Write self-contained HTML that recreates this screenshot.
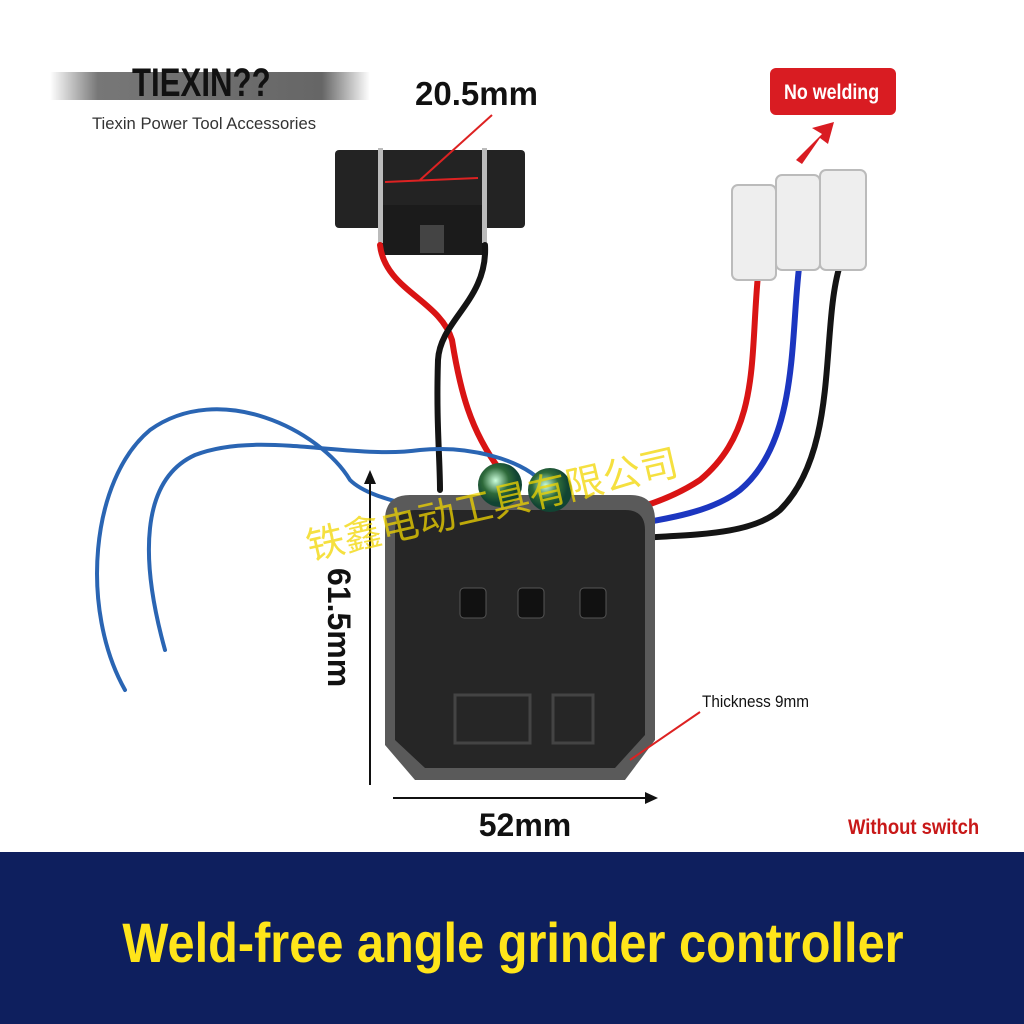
<!DOCTYPE html>
<html><head><meta charset="utf-8"><style>
html,body{margin:0;padding:0;background:#fff}
body{width:1024px;height:1024px;position:relative;overflow:hidden;font-family:"Liberation Sans",sans-serif}
</style></head><body>
<svg width="1024" height="1024" viewBox="0 0 1024 1024" style="position:absolute;left:0;top:0">
<defs>
<linearGradient id="bar" x1="0" x2="1"><stop offset="0" stop-color="#fff"/><stop offset="0.15" stop-color="#777"/><stop offset="0.85" stop-color="#666"/><stop offset="1" stop-color="#fff"/></linearGradient>
<radialGradient id="cap" cx="0.4" cy="0.4"><stop offset="0" stop-color="#cfd"/><stop offset="0.6" stop-color="#2e6a3a"/><stop offset="1" stop-color="#143"/></radialGradient>
</defs>
<rect x="50" y="72" width="320" height="28" fill="url(#bar)"/>
<text x="0" y="96" font-size="40" font-weight="bold" fill="#111" transform="translate(132,0) scale(0.78,1)">TIEXIN??</text>
<text x="0" y="129" font-size="17" fill="#333" transform="translate(92,0) scale(0.98,1)">Tiexin Power Tool Accessories</text>
<text x="415" y="105" font-size="33" font-weight="bold" fill="#111">20.5mm</text>
<rect x="770" y="68" width="126" height="47" rx="6" fill="#d91c22"/>
<text x="0" y="99" font-size="21" font-weight="bold" fill="#fff" transform="translate(784,0) scale(0.85,1)">No welding</text>
<path d="M796 160 L822 134 L812 128 L834 122 L828 144 L820 138 L802 164 Z" fill="#d91c22"/>
<rect x="335" y="150" width="190" height="78" rx="4" fill="#232323"/>
<rect x="380" y="205" width="105" height="50" rx="3" fill="#1b1b1b"/>
<rect x="420" y="225" width="24" height="28" fill="#444"/>
<rect x="378" y="148" width="5" height="95" fill="#bbb"/>
<rect x="482" y="148" width="5" height="95" fill="#bbb"/>
<line x1="385" y1="182" x2="478" y2="178" stroke="#d22" stroke-width="2"/>
<line x1="420" y1="180" x2="492" y2="115" stroke="#d22" stroke-width="2"/>
<g fill="none" stroke-linecap="round">
<path d="M380 245 C385 290,440 300,452 340 C460 390,470 430,500 470" stroke="#d91414" stroke-width="6"/>
<path d="M485 245 C488 300,440 320,438 360 C436 420,440 460,440 490" stroke="#141414" stroke-width="6"/>
<path d="M758 275 C750 360,760 430,700 480 C640 520,560 520,500 540 C470 550,470 570,470 590" stroke="#d91414" stroke-width="6"/>
<path d="M800 260 C790 330,800 440,740 490 C690 530,580 520,540 550 C525 565,525 580,530 590" stroke="#1c36c0" stroke-width="6"/>
<path d="M840 265 C820 330,840 450,780 510 C740 545,640 530,600 545 C590 555,592 580,592 590" stroke="#141414" stroke-width="6"/>
<path d="M125 690 C80 610,90 480,150 430 C220 380,320 430,350 480 C370 500,420 505,440 515" stroke="#2a65b3" stroke-width="4"/>
<path d="M165 650 C140 560,140 480,195 455 C260 430,350 460,420 450 C470 445,520 460,540 480" stroke="#2a65b3" stroke-width="4"/>
</g>
<g fill="#eee" stroke="#bbb" stroke-width="2">
<rect x="732" y="185" width="44" height="95" rx="6"/>
<rect x="776" y="175" width="44" height="95" rx="6"/>
<rect x="820" y="170" width="46" height="100" rx="6"/>
</g>
<path d="M385 520 Q385 495 410 495 L630 495 Q655 495 655 520 L655 740 L625 780 L415 780 L385 745 Z" fill="#5a5a5a"/>
<path d="M395 530 Q395 510 415 510 L625 510 Q645 510 645 530 L645 735 L615 768 L425 768 L395 740 Z" fill="#262626"/>
<circle cx="500" cy="485" r="22" fill="url(#cap)"/>
<circle cx="550" cy="490" r="22" fill="url(#cap)"/>
<g fill="#111" stroke="#555"><rect x="460" y="588" width="26" height="30" rx="4"/><rect x="518" y="588" width="26" height="30" rx="4"/><rect x="580" y="588" width="26" height="30" rx="4"/></g>
<rect x="455" y="695" width="75" height="48" fill="none" stroke="#444" stroke-width="3"/>
<rect x="553" y="695" width="40" height="48" fill="none" stroke="#444" stroke-width="3"/>
<line x1="370" y1="785" x2="370" y2="480" stroke="#111" stroke-width="2"/>
<path d="M370 470 L364 484 L376 484 Z" fill="#111"/>
<text transform="translate(328,568) rotate(90)" font-size="32" font-weight="bold" fill="#111">61.5mm</text>
<line x1="393" y1="798" x2="648" y2="798" stroke="#111" stroke-width="2"/>
<path d="M658 798 L645 792 L645 804 Z" fill="#111"/>
<text x="525" y="836" font-size="32" font-weight="bold" fill="#111" text-anchor="middle">52mm</text>
<text x="0" y="707" font-size="17" fill="#111" transform="translate(702,0) scale(0.9,1)">Thickness 9mm</text>
<line x1="700" y1="712" x2="630" y2="760" stroke="#d22" stroke-width="2"/>
<text x="0" y="834" font-size="21" font-weight="bold" fill="#c81818" transform="translate(848,0) scale(0.88,1)">Without switch</text>
<text x="310" y="560" font-size="38" fill="#f2d500" fill-opacity="0.75" font-family="Noto Sans CJK SC,sans-serif" transform="rotate(-13 310 560)">铁鑫电动工具有限公司</text>
<rect x="0" y="852" width="1024" height="172" fill="#0e1f5e"/>
<text x="0" y="962" font-size="56" font-weight="bold" fill="#ffe51a" text-anchor="middle" transform="translate(513,0) scale(0.87,1)">Weld-free angle grinder controller</text>
</svg>
</body></html>
